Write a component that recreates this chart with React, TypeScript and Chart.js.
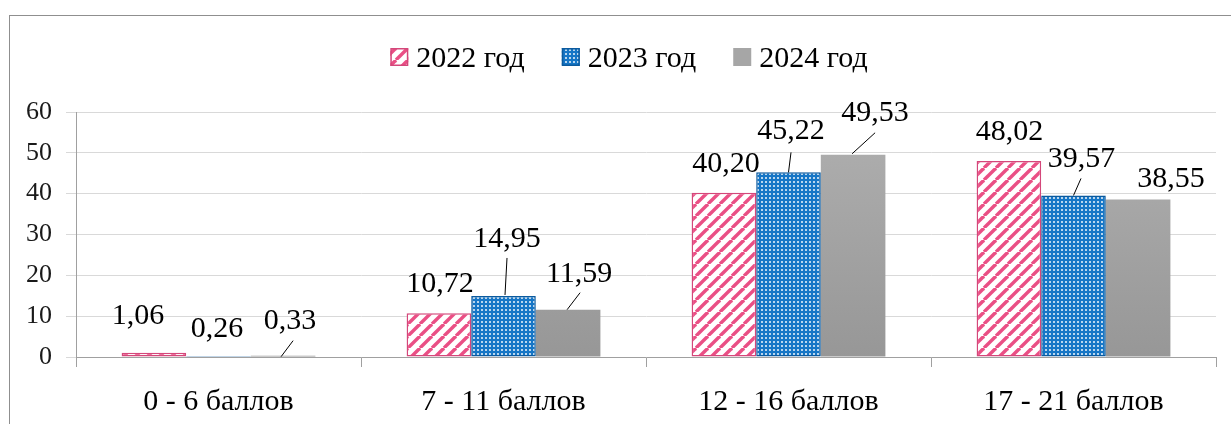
import React, { useEffect, useRef } from "react";
import { Chart, registerables } from "chart.js";

Chart.register(...registerables);

const categories = ["0 - 6 баллов", "7 - 11 баллов", "12 - 16 баллов", "17 - 21 баллов"];
const seriesNames = ["2022 год", "2023 год", "2024 год"];
const values2022 = [1.06, 10.72, 40.2, 48.02];
const values2023 = [0.26, 14.95, 45.22, 39.57];
const values2024 = [0.33, 11.59, 49.53, 38.55];
const yMin = 0;
const yMax = 60;
const yStep = 10;

// label placement (style): offsets of label centre from bar top centre, per series / category
const labelOffsets: number[][][] = [
  [[-16, -39], [1, -31], [2, -31], [0.5, -31]],
  [[-1.5, -29], [3.5, -59], [2.5, -43], [8, -38]],
  [[7, -37], [11, -38], [22, -44], [33, -23]],
];
// leader lines (style): [x0, y0, x1, y1] relative to bar top centre
const leaderLines: (number[] | null)[][] = [
  [null, null, null, null],
  [null, [1.5, -1, 3.5, -38], [0, 0, 2.5, -20], [0, 0, 7.5, -17]],
  [[-2, 1, 10, -15], [-1, 0, 12, -17], [-1, -1, 22, -22], null],
];

const FONT = "Liberation Serif";

function makeStripePattern(ctx: CanvasRenderingContext2D): CanvasPattern | string {
  const s = 12;
  const c = document.createElement("canvas");
  c.width = s;
  c.height = s;
  const g = c.getContext("2d");
  if (!g) return "#e8558a";
  g.fillStyle = "#ffffff";
  g.fillRect(0, 0, s, s);
  g.strokeStyle = "#ea4f85";
  g.lineWidth = 3.4;
  for (let k = -1; k <= 1; k++) {
    g.beginPath();
    g.moveTo(k * s, s);
    g.lineTo(k * s + s, 0);
    g.stroke();
  }
  return ctx.createPattern(c, "repeat") || "#e8558a";
}

function makeDotPattern(ctx: CanvasRenderingContext2D): CanvasPattern | string {
  const c = document.createElement("canvas");
  c.width = 4;
  c.height = 4;
  const g = c.getContext("2d");
  if (!g) return "#1878c8";
  g.fillStyle = "#1676c6";
  g.fillRect(0, 0, 4, 4);
  g.fillStyle = "rgba(255,255,255,0.7)";
  g.fillRect(1, 1, 2, 2);
  return ctx.createPattern(c, "repeat") || "#1878c8";
}

function fmt(v: number): string {
  return v.toFixed(2).replace(".", ",");
}

const labelPlugin = {
  id: "barLabels",
  afterDatasetsDraw(chart: any) {
    const ctx = chart.ctx as CanvasRenderingContext2D;
    ctx.save();
    ctx.font = `30px "${FONT}"`;
    ctx.fillStyle = "#000";
    ctx.textAlign = "center";
    ctx.textBaseline = "alphabetic";
    chart.data.datasets.forEach((ds: any, i: number) => {
      const meta = chart.getDatasetMeta(i);
      meta.data.forEach((bar: any, j: number) => {
        const x = bar.x;
        const y = bar.y;
        const ln = leaderLines[i] && leaderLines[i][j];
        if (ln) {
          ctx.strokeStyle = "#000";
          ctx.lineWidth = 1;
          ctx.beginPath();
          ctx.moveTo(x + ln[0], y + ln[1]);
          ctx.lineTo(x + ln[2], y + ln[3]);
          ctx.stroke();
        }
        const off = labelOffsets[i][j];
        ctx.fillText(fmt(ds.data[j]), x + off[0], y + off[1] + 10);
      });
    });
    ctx.restore();
  },
};

const legendPlugin = {
  id: "customLegend",
  afterDraw(chart: any) {
    const ctx = chart.ctx as CanvasRenderingContext2D;
    ctx.save();
    ctx.font = `30px "${FONT}"`;
    const box = 18;
    const gap = 8;
    const spacing = 37;
    const widths = chart.data.datasets.map((ds: any) => ctx.measureText(ds.label).width);
    let total = 0;
    widths.forEach((w: number, i: number) => {
      total += box + gap + w + (i > 0 ? spacing : 0);
    });
    let x = 629 - total / 2;
    const cy = 57;
    chart.data.datasets.forEach((ds: any, i: number) => {
      ctx.fillStyle = ds.legendFill || "#999";
      ctx.fillRect(x, cy - box / 2, box, box);
      if (ds.borderWidth) {
        ctx.strokeStyle = ds.borderColor;
        ctx.lineWidth = 1.5;
        ctx.strokeRect(x + 0.75, cy - box / 2 + 0.75, box - 1.5, box - 1.5);
      }
      ctx.fillStyle = "#000";
      ctx.textAlign = "left";
      ctx.textBaseline = "alphabetic";
      ctx.fillText(ds.label, x + box + gap, cy + 10);
      x += box + gap + widths[i] + spacing;
    });
    ctx.restore();
  },
};

export default function App() {
  const ref = useRef<HTMLCanvasElement | null>(null);

  useEffect(() => {
    const canvas = ref.current;
    if (!canvas) return;
    const ctx = canvas.getContext("2d");
    if (!ctx) return;
    const stripes = makeStripePattern(ctx);
    const dots = makeDotPattern(ctx);
    const grayFill = (c: any) => {
      const area = c.chart.chartArea;
      if (!area) return "#a6a6a6";
      const g = c.chart.ctx.createLinearGradient(0, area.top, 0, area.bottom);
      g.addColorStop(0, "#b0b0b0");
      g.addColorStop(1, "#979797");
      return g;
    };

    const chart: any = new Chart(canvas, {
      type: "bar",
      data: {
        labels: categories,
        datasets: [
          {
            label: seriesNames[0],
            data: values2022,
            backgroundColor: stripes as any,
            borderColor: "#d4477a",
            borderWidth: 1.5,
            borderSkipped: false,
            legendFill: stripes,
          } as any,
          {
            label: seriesNames[1],
            data: values2023,
            backgroundColor: dots as any,
            borderColor: "#0b5a9e",
            borderWidth: 1.5,
            borderSkipped: false,
            legendFill: dots,
          } as any,
          {
            label: seriesNames[2],
            data: values2024,
            backgroundColor: grayFill as any,
            borderWidth: 0,
            legendFill: "#a6a6a6",
          } as any,
        ],
      },
      options: {
        animation: false,
        responsive: false,
        maintainAspectRatio: false,
        font: { family: FONT },
        layout: { padding: { left: 0, right: 15, top: 112, bottom: 0 } },
        plugins: {
          legend: { display: false },
          tooltip: { enabled: false },
        },
        datasets: {
          bar: { categoryPercentage: 0.68, barPercentage: 1 },
        },
        scales: {
          x: {
            offset: true,
            afterFit: (s: any) => {
              s.height = 67;
            },
            grid: {
              display: true,
              offset: true,
              drawOnChartArea: false,
              drawTicks: true,
              tickLength: 10,
              color: "#a0a0a0",
            },
            border: { display: true, color: "#a0a0a0", width: 1 },
            ticks: {
              color: "#000",
              font: { family: FONT, size: 30 },
              padding: 17,
              maxRotation: 0,
              autoSkip: false,
            },
          },
          y: {
            min: yMin,
            max: yMax,
            afterFit: (s: any) => {
              s.width = 76;
            },
            grid: {
              color: "#d9d9d9",
              drawTicks: true,
              tickLength: 10,
            },
            border: { display: true, color: "#a0a0a0", width: 1 },
            ticks: {
              stepSize: yStep,
              color: "#1a1a1a",
              font: { family: FONT, size: 26 },
              padding: 14,
            },
          },
        },
      },
      plugins: [labelPlugin, legendPlugin],
    } as any);

    let alive = true;
    const fonts: any = (document as any).fonts;
    if (fonts && fonts.load) {
      Promise.all([fonts.load(`30px "${FONT}"`), fonts.load(`26px "${FONT}"`)])
        .then(() => {
          if (alive) chart.update();
        })
        .catch(() => {});
    }

    return () => {
      alive = false;
      chart.destroy();
    };
  }, []);

  return (
    <div
      style={{
        position: "fixed",
        left: 0,
        top: 0,
        width: 1231,
        height: 424,
        background: "#fff",
        overflow: "hidden",
        fontFamily: '"Liberation Serif"',
      }}
    >
      <span style={{ position: "absolute", left: -1000, top: -1000, fontFamily: '"Liberation Serif"' }}>
        год 0123456789
      </span>
      <div
        style={{
          position: "absolute",
          left: 9,
          top: 15,
          width: 1300,
          height: 500,
          border: "1.5px solid #8f8f8f",
        }}
      />
      <canvas
        ref={ref}
        width={1231}
        height={424}
        style={{ position: "absolute", left: 0, top: 0, width: 1231, height: 424 }}
      />
    </div>
  );
}
